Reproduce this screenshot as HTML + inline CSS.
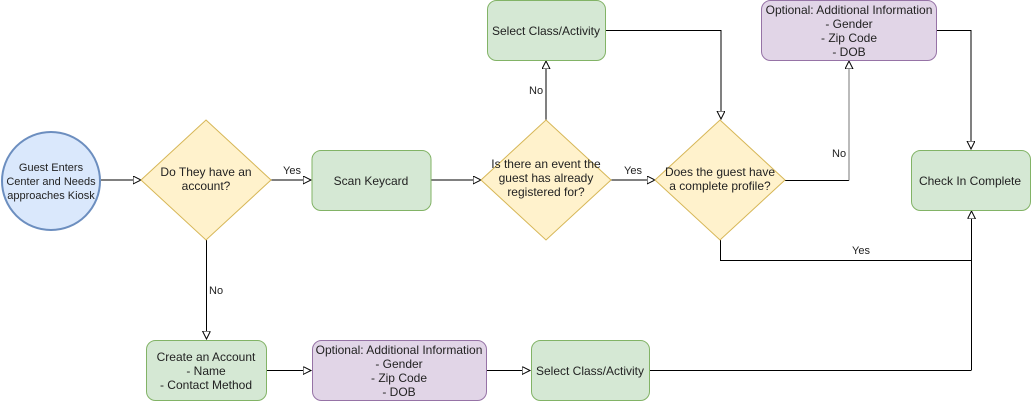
<!DOCTYPE html>
<html><head><style>body{margin:0;background:#fff}svg{display:block}text{font-family:"Liberation Sans",Arial,sans-serif;font-size:12px;fill:#222}</style></head><body>
<svg width="1032" height="402" viewBox="0 0 1032 402" xmlns="http://www.w3.org/2000/svg">
<defs><marker id="a" markerWidth="10" markerHeight="10" refX="8" refY="4" orient="auto" markerUnits="userSpaceOnUse"><path d="M0,0 L8,4 L0,8 Z" fill="#fff" stroke="#000" stroke-width="1"/></marker></defs>
<g fill="none" stroke="#000" stroke-width="1">
<path d="M101,180 H141" marker-end="url(#a)"/>
<path d="M271,180 H311" marker-end="url(#a)"/>
<path d="M431,180 H481" marker-end="url(#a)"/>
<path d="M546,120 V61" marker-end="url(#a)"/>
<path d="M611,180 H655" marker-end="url(#a)"/>
<path d="M605,30.5 H721 V119" marker-end="url(#a)"/>
<path d="M785,180.5 H849" />
<path d="M849,180.5 V61" stroke="#777" marker-end="url(#a)"/>
<path d="M936,30.5 H971 V149" marker-end="url(#a)"/>
<path d="M720.5,240 V260.5 H971"/>
<path d="M971.5,370 V211" marker-end="url(#a)"/>
<path d="M206.5,240 V339" marker-end="url(#a)"/>
<path d="M266,370.5 H311" marker-end="url(#a)"/>
<path d="M486,370.5 H530" marker-end="url(#a)"/>
<path d="M649,370.5 H971.5"/>
</g>
<circle cx="51" cy="181" r="49" fill="#dae8fc" stroke="#6c8ebf" stroke-width="2"/>
<text x="51" y="171" text-anchor="middle" style="font-size:11px">Guest Enters</text>
<text x="51" y="185" text-anchor="middle" style="font-size:11px">Center and Needs</text>
<text x="51" y="199" text-anchor="middle" style="font-size:11px">approaches Kiosk</text>
<g fill="#fff2cc" stroke="#d6b656">
<path d="M206,120 L271,180 L206,240 L141,180 Z"/>
<path d="M546,120 L611,180 L546,240 L481,180 Z"/>
<path d="M720,120 L785,180 L720,240 L655,180 Z"/>
</g>
<g fill="#d5e8d4" stroke="#82b366">
<rect x="312" y="150.5" width="119" height="60" rx="9"/>
<rect x="487.5" y="0.5" width="118" height="60" rx="9"/>
<rect x="911.5" y="150.5" width="119" height="60" rx="9"/>
<rect x="146.5" y="340.5" width="120" height="60" rx="9"/>
<rect x="531.5" y="340.5" width="118" height="60" rx="9"/>
</g>
<g fill="#e1d5e7" stroke="#9673a6">
<rect x="761.5" y="0.5" width="175" height="60" rx="9"/>
<rect x="312.5" y="340.5" width="174" height="60" rx="9"/>
</g>
<g text-anchor="middle">
<text x="206" y="176">Do They have an</text><text x="206" y="190">account?</text>
<text x="371" y="185">Scan Keycard</text>
<text x="546" y="168">Is there an event the</text><text x="546" y="182">guest has already</text><text x="546" y="196">registered for?</text>
<text x="720" y="176">Does the guest have</text><text x="720" y="190">a complete profile?</text>
<text x="546" y="35">Select Class/Activity</text>
<text x="970" y="185">Check In Complete</text>
<text x="849" y="14">Optional: Additional Information</text><text x="849" y="28">- Gender</text><text x="849" y="42">- Zip Code</text><text x="849" y="56">- DOB</text>
<text x="206" y="361">Create an Account</text><text x="206" y="375">- Name</text><text x="206" y="389">- Contact Method</text>
<text x="399" y="354">Optional: Additional Information</text><text x="399" y="368">- Gender</text><text x="399" y="382">- Zip Code</text><text x="399" y="396">- DOB</text>
<text x="590" y="375">Select Class/Activity</text>
</g>
<g>
<text x="283" y="174" style="font-size:11px">Yes</text>
<text x="529" y="94" style="font-size:11px">No</text>
<text x="624" y="174" style="font-size:11px">Yes</text>
<text x="832" y="157" style="font-size:11px">No</text>
<text x="852" y="254" style="font-size:11px">Yes</text>
<text x="209" y="294" style="font-size:11px">No</text>
</g>
</svg>
</body></html>
